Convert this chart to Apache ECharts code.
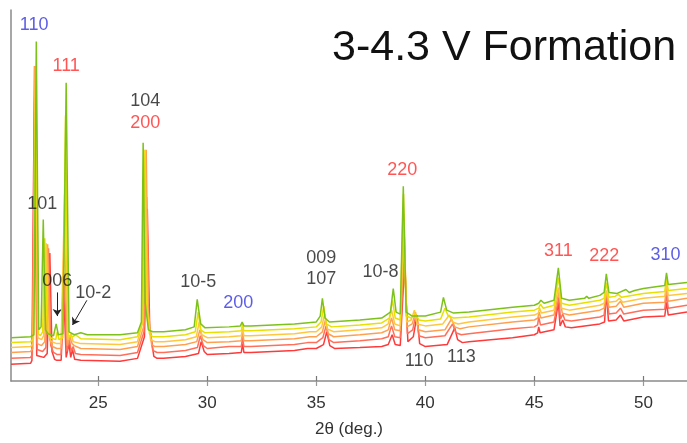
<!DOCTYPE html>
<html>
<head>
<meta charset="utf-8">
<script src="https://cdn.jsdelivr.net/npm/echarts@6/dist/echarts.min.js"></script>
<style>html,body{margin:0;padding:0;background:#fff}#c{width:687px;height:443px}</style>
</head>
<body>
<div id="c"></div>
<script>
// 2θ (deg), intensity (arbitrary units, stacked offsets) for each pattern
var seriesNames = ['red', 'salmon', 'orange', 'lightOrange', 'yellow', 'green'];
var seriesColors = ['#ff3a3a', '#ff6f5a', '#ffa050', '#ffc640', '#e8e000', '#7cc21a'];

var green = [[21.0,44],[21.9,45],[22.05,47],[22.16,345],[22.27,52],[22.38,55],[22.48,164],[22.58,52],[22.7,48],[22.95,46],[23.07,58],[23.17,47],[23.38,48],[23.53,303],[23.66,50],[23.9,47],[24.2,49],[24.5,47],[26.0,47],[26.8,49],[26.98,60],[27.06,242],[27.15,80],[27.3,52],[27.5,50],[28.0,50],[29.0,52],[29.4,55],[29.54,83],[29.7,58],[29.9,54],[31.0,55],[31.52,56],[31.6,60],[31.68,56],[32.0,56],[34.0,58],[35.0,60],[35.18,66],[35.28,84],[35.4,64],[35.6,60],[37.0,62],[38.0,64],[38.4,70],[38.53,94],[38.66,70],[38.85,68],[38.99,198],[39.12,70],[39.4,66],[40.0,66],[40.7,70],[40.83,85],[40.98,72],[41.3,69],[42.0,70],[44.0,75],[45.0,77],[45.2,79],[45.3,82],[45.45,79],[45.9,82],[46.1,115],[46.25,84],[46.6,82],[47.3,84],[47.4,86],[47.5,84],[48.0,87],[48.2,90],[48.3,109],[48.42,90],[48.8,89],[49.2,93],[49.35,90],[49.6,92],[50.0,94],[50.98,97],[51.06,110],[51.14,98],[52.0,100]];

var yellow = [[21.0,39],[21.9,40],[22.03,43],[22.14,320],[22.25,48],[22.35,46],[22.45,50],[22.55,145],[22.66,50],[22.8,44],[23.05,42],[23.12,50],[23.2,42],[23.38,44],[23.5,270],[23.62,46],[23.85,45],[23.95,47],[24.2,43],[26.0,42],[26.8,45],[27.0,60],[27.1,235],[27.2,80],[27.35,48],[27.5,45],[28.0,45],[29.0,47],[29.45,50],[29.58,70],[29.7,52],[29.9,49],[31.0,50],[31.56,51],[31.62,58],[31.68,51],[32.0,51],[34.0,53],[35.0,55],[35.22,60],[35.34,76],[35.46,58],[35.7,55],[37.0,57],[38.0,59],[38.35,64],[38.5,82],[38.62,64],[38.85,62],[39.0,190],[39.12,66],[39.35,64],[39.55,68],[39.7,62],[40.0,61],[40.7,63],[40.9,74],[41.05,66],[41.3,64],[42.0,65],[44.0,70],[45.0,72],[45.2,74],[45.28,78],[45.4,74],[45.9,77],[46.1,105],[46.25,79],[46.6,77],[48.0,82],[48.2,84],[48.3,100],[48.42,85],[48.7,86],[48.85,88],[49.0,85],[50.0,89],[50.98,91],[51.06,104],[51.14,92],[52.0,94]];

var lightOrange = [[21.0,34],[21.9,35],[22.02,38],[22.12,320],[22.23,44],[22.4,42],[22.5,46],[22.62,140],[22.72,48],[22.85,40],[23.1,38],[23.3,38],[23.47,200],[23.6,42],[23.75,48],[23.85,40],[24.2,38],[26.0,37],[26.8,40],[27.05,60],[27.15,235],[27.25,75],[27.4,42],[27.6,40],[28.0,40],[29.0,42],[29.5,45],[29.63,60],[29.75,47],[30.0,44],[31.0,45],[31.56,46],[31.62,53],[31.68,46],[32.0,46],[34.0,48],[34.7,50],[35.0,50],[35.25,55],[35.38,68],[35.5,53],[35.8,50],[37.0,52],[38.0,54],[38.3,58],[38.45,72],[38.6,58],[38.85,56],[39.02,170],[39.14,60],[39.35,62],[39.5,72],[39.62,58],[40.0,56],[40.8,58],[41.1,67],[41.25,60],[41.5,58],[42.0,60],[44.0,65],[45.0,67],[45.18,69],[45.24,74],[45.32,69],[45.9,72],[46.1,95],[46.25,74],[46.6,72],[48.0,77],[48.2,79],[48.3,92],[48.42,80],[48.75,81],[48.9,84],[49.05,80],[50.0,84],[50.98,86],[51.06,99],[51.14,87],[52.0,89]];

var orange = [[21.0,29],[21.9,30],[22.0,33],[22.1,320],[22.21,38],[22.4,36],[22.55,40],[22.68,139],[22.78,42],[22.9,35],[23.1,33],[23.3,33],[23.45,150],[23.58,36],[23.7,45],[23.8,38],[23.9,36],[24.2,33],[26.0,32],[26.8,35],[27.08,55],[27.2,235],[27.3,70],[27.45,37],[27.6,35],[28.0,35],[29.0,37],[29.52,40],[29.66,52],[29.8,42],[30.0,39],[31.0,40],[31.56,41],[31.62,49],[31.68,41],[32.0,41],[34.0,43],[34.7,45],[35.0,45],[35.28,50],[35.42,62],[35.55,48],[35.8,45],[37.0,47],[38.0,49],[38.3,52],[38.45,64],[38.6,52],[38.85,51],[39.03,150],[39.16,55],[39.4,58],[39.55,70],[39.68,52],[40.0,50],[40.9,52],[41.2,63],[41.35,55],[41.6,53],[42.0,55],[44.0,60],[45.0,62],[45.16,64],[45.22,70],[45.3,64],[45.9,67],[46.12,90],[46.28,69],[46.6,67],[48.0,72],[48.2,74],[48.3,90],[48.42,75],[48.75,76],[48.95,81],[49.1,75],[50.0,79],[50.98,80],[51.06,94],[51.14,81],[52.0,84]];

var salmon = [[21.0,23],[21.9,24],[21.98,27],[22.1,320],[22.2,32],[22.45,30],[22.6,34],[22.72,135],[22.82,36],[22.95,29],[23.1,27],[23.3,27],[23.43,110],[23.55,30],[23.68,42],[23.76,30],[23.85,35],[23.95,28],[24.2,27],[26.0,26],[26.8,29],[27.1,50],[27.22,187],[27.32,60],[27.5,31],[27.7,29],[28.0,29],[29.0,31],[29.55,34],[29.68,46],[29.82,36],[30.0,33],[31.0,35],[31.56,35],[31.62,44],[31.68,35],[32.0,35],[34.0,37],[34.6,39],[35.0,39],[35.3,44],[35.45,56],[35.58,42],[35.8,39],[37.0,41],[38.0,43],[38.3,45],[38.45,56],[38.6,45],[38.85,44],[39.04,130],[39.18,48],[39.42,52],[39.58,68],[39.7,46],[40.0,44],[40.9,46],[41.25,58],[41.4,49],[41.65,47],[42.0,48],[44.0,53],[45.0,55],[45.15,57],[45.2,65],[45.28,57],[45.9,60],[46.12,85],[46.2,63],[46.3,68],[46.4,62],[46.7,61],[48.0,65],[48.2,67],[48.3,88],[48.42,68],[48.75,69],[48.95,74],[49.1,68],[50.0,72],[50.98,73],[51.06,88],[51.14,74],[52.0,77]];

var red = [[21.0,17],[21.9,18],[21.96,21],[22.08,320],[22.18,26],[22.5,24],[22.66,28],[22.78,130],[22.88,30],[23.0,22],[23.1,21],[23.3,21],[23.42,90],[23.53,24],[23.66,38],[23.74,24],[23.82,32],[23.92,22],[24.2,21],[26.0,20],[26.8,23],[27.12,45],[27.25,175],[27.36,55],[27.55,25],[27.7,23],[28.0,23],[29.0,25],[29.6,28],[29.72,40],[29.86,30],[30.0,27],[31.0,28],[31.56,29],[31.62,38],[31.68,29],[32.0,29],[34.0,31],[34.6,33],[35.0,33],[35.33,37],[35.48,50],[35.62,36],[35.85,33],[37.0,34],[38.0,35],[38.3,37],[38.48,47],[38.62,37],[38.85,36],[39.05,120],[39.2,40],[39.45,45],[39.62,67],[39.74,38],[40.0,35],[41.0,37],[41.35,54],[41.48,42],[41.7,39],[42.0,40],[44.0,44],[45.0,47],[45.15,49],[45.2,55],[45.26,49],[45.9,52],[46.1,80],[46.18,56],[46.3,62],[46.42,55],[46.7,54],[48.0,58],[48.22,60],[48.3,90],[48.4,61],[48.75,62],[48.95,67],[49.1,61],[50.0,65],[50.98,66],[51.06,80],[51.14,67],[52.0,70]];

var seriesData = [red, salmon, orange, lightOrange, yellow, green];

// peak annotations: text, 2θ, intensity, colour
var labelTexts  = ['110', '111', '104', '200', '101', '006', '10-2', '10-5', '200', '009', '107', '10-8', '220', '110', '113', '311', '222', '310'];
var labelX      = [22.06, 23.53, 27.16, 27.16, 22.43, 23.12, 24.77, 29.59, 31.42, 35.23, 35.23, 37.94, 38.94, 39.72, 41.65, 46.10, 48.21, 51.01];
var labelY      = [362, 320, 284, 262, 180, 102, 89, 101, 79, 125, 104, 111, 214, 20, 24, 132, 127, 128];
var labelColors = ['#3535e0', '#ff2a2a', '#1a1a1a', '#ff2a2a', '#1a1a1a', '#1a1a1a', '#1a1a1a', '#1a1a1a', '#3535e0', '#1a1a1a', '#1a1a1a', '#1a1a1a', '#ff2a2a', '#1a1a1a', '#1a1a1a', '#ff2a2a', '#ff2a2a', '#3535e0'];

// arrows (2θ, intensity) start -> end
var arrows = [
  [[23.12, 90], [23.12, 66]],
  [[24.48, 82], [23.82, 57]]
];

var xTicks = [25, 30, 35, 40, 45, 50];

var chart = echarts.init(document.getElementById('c'), null, {renderer: 'canvas'});

var series = seriesData.map(function (d, i) {
  return {
    type: 'line',
    name: seriesNames[i],
    data: d,
    showSymbol: false,
    symbol: 'none',
    smooth: false,
    lineStyle: {color: seriesColors[i], width: 1.5},
    z: 2 + i,
    silent: true
  };
});

series.push({
  type: 'scatter',
  symbolSize: 0,
  z: 20,
  silent: true,
  data: labelTexts.map(function (t, i) {
    return {
      value: [labelX[i], labelY[i]],
      label: {
        show: true,
        position: 'inside',
        formatter: t,
        color: labelColors[i],
        fontSize: 18,
        fontFamily: 'Liberation Sans, Arial, sans-serif'
      }
    };
  }),
  markLine: {
    silent: true,
    symbol: ['none', 'arrow'],
    symbolSize: 7,
    label: {show: false},
    lineStyle: {color: '#222', width: 1, type: 'solid'},
    data: arrows.map(function (a) {
      return [{coord: a[0]}, {coord: a[1]}];
    })
  }
});

chart.setOption({
  animation: false,
  backgroundColor: '#ffffff',
  title: {
    text: '3-4.3 V Formation',
    left: 327,
    top: 22,
    textStyle: {fontSize: 43, fontWeight: 'normal', color: '#111', fontFamily: 'Liberation Sans, Arial, sans-serif'}
  },
  grid: {left: 11, right: 0, top: 10, bottom: 56},
  xAxis: [{
    type: 'value',
    min: 21,
    max: 52,
    position: 'bottom',
    name: '2θ (deg.)',
    nameLocation: 'middle',
    nameGap: 40,
    nameTextStyle: {fontSize: 17, color: '#333', fontFamily: 'Liberation Sans, Arial, sans-serif'},
    axisLine: {show: true, onZero: false, lineStyle: {color: '#8a8a8a', width: 1.5}},
    axisTick: {show: true, inside: true, length: 5, customValues: xTicks, lineStyle: {color: '#777', width: 1.2}},
    axisLabel: {show: true, customValues: xTicks, fontSize: 17, color: '#333', margin: 14, fontFamily: 'Liberation Sans, Arial, sans-serif'},
    splitLine: {show: false}
  }, {
    type: 'value',
    min: 21,
    max: 52,
    position: 'top',
    axisLine: {show: false},
    axisTick: {show: true, inside: true, length: 5, customValues: xTicks, lineStyle: {color: '#999', width: 1.2}},
    axisLabel: {show: false},
    splitLine: {show: false}
  }],
  yAxis: {
    type: 'value',
    min: 0,
    max: 377,
    axisLine: {show: true, lineStyle: {color: '#8a8a8a', width: 1.5}},
    axisTick: {show: false},
    axisLabel: {show: false},
    splitLine: {show: false}
  },
  series: series
});
</script>
</body>
</html>
